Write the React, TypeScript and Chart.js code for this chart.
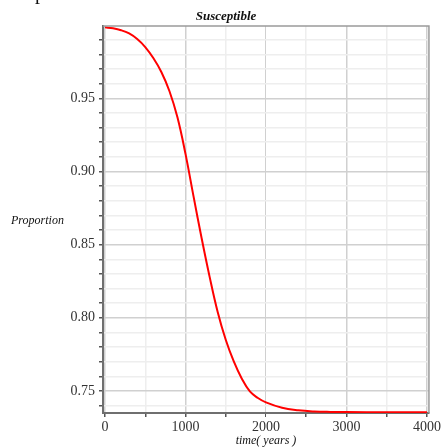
import React, { useEffect, useRef } from "react";
import { Chart, registerables } from "chart.js";

Chart.register(...registerables);

// Data
const times = [0, 100, 200, 300, 400, 500, 600, 700, 800, 900, 1000, 1100, 1200, 1300, 1400, 1500, 1600, 1700, 1800, 1900, 2000, 2200, 2400, 2600, 2800, 3000, 3500, 4000];
const susceptible = [0.9985, 0.9978, 0.9965, 0.9943, 0.9905, 0.985, 0.9775, 0.968, 0.955, 0.937, 0.912, 0.883, 0.8545, 0.828, 0.804, 0.785, 0.7702, 0.7584, 0.7497, 0.7452, 0.7422, 0.7385, 0.7368, 0.736, 0.7357, 0.7356, 0.7355, 0.7355];

const xTickValues = [0, 500, 1000, 1500, 2000, 2500, 3000, 3500, 4000];
const xLabelValues = [0, 1000, 2000, 3000, 4000];
const yTickValues = [0.74, 0.75, 0.76, 0.77, 0.78, 0.79, 0.8, 0.81, 0.82, 0.83, 0.84, 0.85, 0.86, 0.87, 0.88, 0.89, 0.9, 0.91, 0.92, 0.93, 0.94, 0.95, 0.96, 0.97, 0.98, 0.99];
const yLabelValues = [0.75, 0.8, 0.85, 0.9, 0.95];

const chartTitle = "Susceptible";
const yTitle = "Proportion";
const xTitle = "time( years )";

const SERIF = '"Liberation Serif", "Times New Roman", serif';

const isYLabel = (v: number) => yLabelValues.some((l) => Math.abs(l - v) < 1e-6);
const isXLabel = (v: number) => xLabelValues.includes(v);

const textPlugin = {
  id: "texts",
  afterDraw(chart: any) {
    const { ctx, chartArea } = chart;
    ctx.save();
    ctx.strokeStyle = "#9a9a9a";
    ctx.lineWidth = 1.5;
    ctx.beginPath();
    ctx.moveTo(chartArea.left, chartArea.top);
    ctx.lineTo(chartArea.right, chartArea.top);
    ctx.lineTo(chartArea.right, chartArea.bottom);
    ctx.stroke();

    ctx.fillStyle = "#111";
    ctx.textBaseline = "middle";
    ctx.textAlign = "center";
    ctx.font = `bold italic 13px ${SERIF}`;
    ctx.fillText(chartTitle, 226, 17);

    ctx.font = `italic 12px ${SERIF}`;
    ctx.textAlign = "left";
    ctx.fillText(yTitle, 11, 221);

    ctx.textAlign = "center";
    ctx.fillText(xTitle, 266, 441);

    ctx.font = `20px ${SERIF}`;
    ctx.textAlign = "left";
    ctx.textBaseline = "alphabetic";
    ctx.fillText("p", 35, -1);
    ctx.restore();
  },
};

export default function App() {
  const ref = useRef<HTMLCanvasElement | null>(null);

  useEffect(() => {
    if (!ref.current) return;
    const chart = new Chart(ref.current, {
      type: "line",
      data: {
        datasets: [
          {
            data: times.map((t, i) => ({ x: t, y: susceptible[i] })),
            borderColor: "#ff0000",
            borderWidth: 2,
            pointRadius: 0,
            tension: 0.4,
            fill: false,
          },
        ],
      },
      options: {
        responsive: false,
        animation: false,
        events: [],
        layout: { padding: { top: 26, right: 11, left: 0, bottom: 0 } },
        plugins: {
          legend: { display: false },
          tooltip: { enabled: false },
          title: { display: false },
        },
        scales: {
          x: {
            type: "linear",
            min: -25,
            max: 4025,
            afterBuildTicks: (s: any) => {
              s.ticks = xTickValues.map((v) => ({ value: v }));
            },
            afterFit: (s: any) => {
              s.height = 35;
            },
            ticks: {
              autoSkip: false,
              maxRotation: 0,
              padding: 2,
              color: "#333",
              font: { family: SERIF, size: 14 },
              callback: (v: any) => (isXLabel(Number(v)) ? String(v) : ""),
            },
            grid: {
              color: (c: any) => (c.tick && isXLabel(c.tick.value) ? "#d0d0d0" : "#eeeeee"),
              lineWidth: (c: any) => (c.tick && c.tick.value === 2000 ? 1 : 1.5),
              tickColor: "#555",
              tickLength: 4,
            },
            border: { display: true, color: "#6f6f6f", width: 2 },
          },
          y: {
            type: "linear",
            min: 0.73497,
            max: 0.99939,
            afterBuildTicks: (s: any) => {
              s.ticks = yTickValues.map((v) => ({ value: v }));
            },
            afterFit: (s: any) => {
              s.width = 103;
            },
            ticks: {
              autoSkip: false,
              padding: 4,
              color: "#333",
              font: { family: SERIF, size: 14 },
              callback: (v: any) => (isYLabel(Number(v)) ? Number(v).toFixed(2) : ""),
            },
            grid: {
              color: (c: any) => (c.tick && isYLabel(c.tick.value) ? "#d0d0d0" : "#eeeeee"),
              lineWidth: 1.5,
              tickColor: "#555",
              tickLength: 4,
            },
            border: { display: true, color: "#6f6f6f", width: 2 },
          },
        },
      },
      plugins: [textPlugin],
    } as any);
    return () => chart.destroy();
  }, []);

  return (
    <div style={{ position: "absolute", left: 0, top: 0, width: 443, height: 448, background: "#fff" }}>
      <canvas ref={ref} width={443} height={448} style={{ display: "block", width: 443, height: 448 }} />
    </div>
  );
}
